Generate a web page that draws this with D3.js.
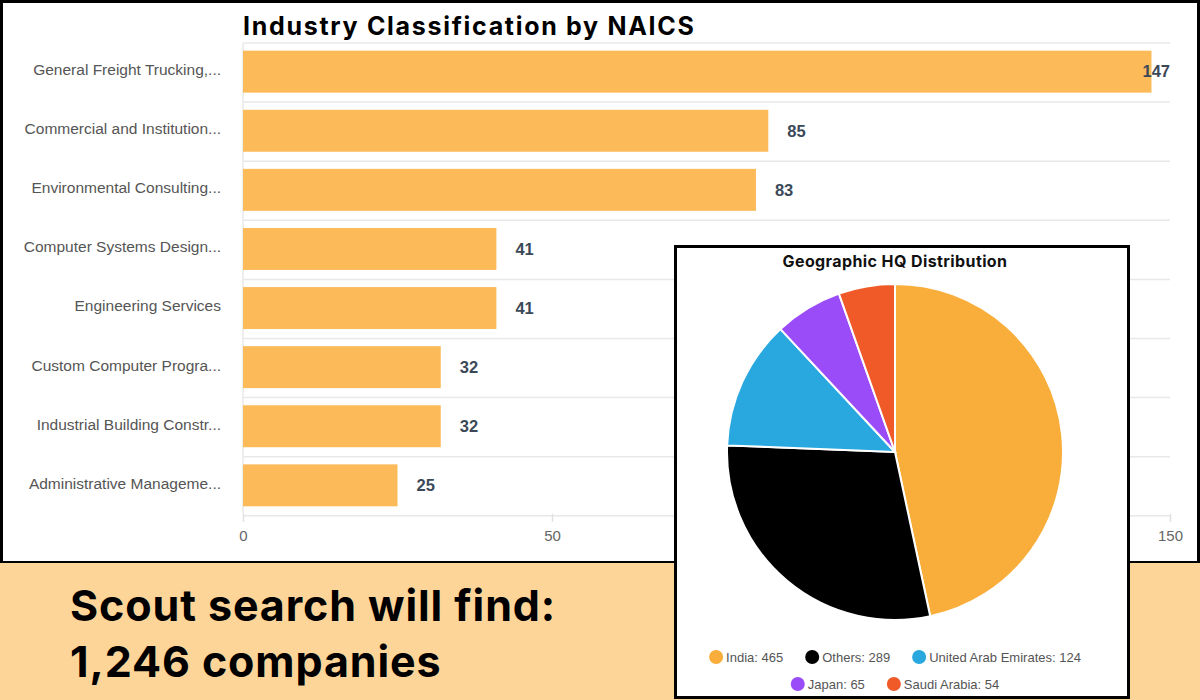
<!DOCTYPE html>
<html>
<head>
<meta charset="utf-8">
<script src="https://cdn.jsdelivr.net/npm/d3@7"></script>
<style>
  body { margin: 0; background: #fff; }
  svg { display: block; }
</style>
</head>
<body>
<div id="chart"></div>
<script>
const industries = [
  'General Freight Trucking,...',
  'Commercial and Institution...',
  'Environmental Consulting...',
  'Computer Systems Design...',
  'Engineering Services',
  'Custom Computer Progra...',
  'Industrial Building Constr...',
  'Administrative Manageme...'
];
const industryCounts = [147, 85, 83, 41, 41, 32, 32, 25];
const xTicks = [0, 50, 100, 150];

const regions = ['India', 'Others', 'United Arab Emirates', 'Japan', 'Saudi Arabia'];
const regionCounts = [465, 289, 124, 65, 54];
const regionColors = ['#f9ae3b', '#000000', '#29a8e0', '#9b4cf9', '#f05a28'];

const headline = ['Scout search will find:', '1,246 companies'];

const W = 1200, H = 700;
const bandTop = 563;

const svg = d3.select('#chart').append('svg')
  .attr('width', W)
  .attr('height', H);

// white panel with black frame
svg.append('rect')
  .attr('x', 1.5).attr('y', 1.5)
  .attr('width', W - 3).attr('height', bandTop - 2)
  .attr('fill', '#fff')
  .attr('stroke', '#000')
  .attr('stroke-width', 3);

// ---- bar chart ----
const margin = {top: 43, left: 243};
const plotW = 927, plotH = 471;

const g = svg.append('g')
  .attr('transform', 'translate(' + margin.left + ',' + margin.top + ')');

const x = d3.scaleLinear().domain([0, 150]).range([0, plotW]);
const y = d3.scaleBand().domain(industries).range([0, plotH]).paddingInner(0.29).paddingOuter(0.13);

// horizontal grid lines between bands
const step = y.step();
g.selectAll('.hgrid')
  .data(d3.range(industries.length + 1))
  .enter().append('line')
  .attr('class', 'hgrid')
  .attr('x1', 0).attr('x2', plotW)
  .attr('y1', d => d * step).attr('y2', d => d * step)
  .attr('stroke', '#e8e8e8')
  .attr('stroke-width', 1.5);

g.append('line')
  .attr('x1', 0).attr('x2', 0)
  .attr('y1', 0).attr('y2', plotH)
  .attr('stroke', '#e8e8e8')
  .attr('stroke-width', 1.5);

const xAxis = g.append('g')
  .attr('transform', 'translate(0,' + plotH + ')')
  .call(d3.axisBottom(x).tickValues(xTicks).tickSize(8).tickPadding(8));
xAxis.select('.domain').remove();
xAxis.selectAll('line').attr('stroke', '#e0e0e0').attr('stroke-width', 1.5);
xAxis.selectAll('text')
  .attr('fill', '#666')
  .style('font-family', 'Liberation Sans, Arial, sans-serif')
  .style('font-size', '15px');

g.selectAll('.bar')
  .data(industries)
  .enter().append('rect')
  .attr('class', 'bar')
  .attr('x', 0)
  .attr('y', d => y(d))
  .attr('width', (d, i) => x(industryCounts[i]))
  .attr('height', y.bandwidth())
  .attr('fill', '#fcba59');

g.selectAll('.cat')
  .data(industries)
  .enter().append('text')
  .attr('class', 'cat')
  .attr('x', -22)
  .attr('y', d => y(d) + y.bandwidth() / 2 - 2)
  .attr('dy', '0.35em')
  .attr('text-anchor', 'end')
  .attr('fill', '#555')
  .style('font-family', 'Liberation Sans, Arial, sans-serif')
  .style('font-size', '15.5px')
  .text(d => d);

g.selectAll('.val')
  .data(industries)
  .enter().append('text')
  .attr('class', 'val')
  .attr('y', d => y(d) + y.bandwidth() / 2)
  .attr('dy', '0.35em')
  .attr('fill', '#3b4858')
  .style('font-family', 'Liberation Sans, Arial, sans-serif')
  .style('font-size', '16.5px')
  .style('font-weight', 'bold')
  .text((d, i) => industryCounts[i])
  .attr('x', function(d, i) {
    const tw = this.getComputedTextLength();
    return Math.min(x(industryCounts[i]) + 19, plotW - tw);
  });

svg.append('text')
  .attr('x', margin.left)
  .attr('y', 35)
  .attr('fill', '#000')
  .style('font-family', 'Inter, sans-serif')
  .style('font-size', '25px')
  .style('font-weight', 'bold')
  .style('letter-spacing', '1.7px')
  .text('Industry Classification by NAICS');

// ---- bottom band ----
svg.append('rect')
  .attr('x', 0).attr('y', bandTop)
  .attr('width', W).attr('height', H - bandTop)
  .attr('fill', '#fed598');

svg.selectAll('.headline')
  .data(headline)
  .enter().append('text')
  .attr('class', 'headline')
  .attr('x', 70)
  .attr('y', (d, i) => 621 + i * 56)
  .attr('fill', '#000')
  .style('font-family', 'Inter, sans-serif')
  .style('font-size', '43px')
  .style('font-weight', 'bold')
  .style('letter-spacing', '0.9px')
  .text(d => d);

// ---- pie box ----
const box = {x: 675.5, y: 246.5, w: 453, h: 451};
svg.append('rect')
  .attr('x', box.x).attr('y', box.y)
  .attr('width', box.w).attr('height', box.h)
  .attr('fill', '#fff')
  .attr('stroke', '#000')
  .attr('stroke-width', 3);

const cx = 895, cy = 452, r = 168;

svg.append('text')
  .attr('x', cx)
  .attr('y', 267)
  .attr('text-anchor', 'middle')
  .attr('fill', '#111')
  .style('font-family', 'Inter, sans-serif')
  .style('font-size', '16px')
  .style('font-weight', 'bold')
  .style('letter-spacing', '0.4px')
  .text('Geographic HQ Distribution');

const pie = d3.pie().sort(null).value(d => d)(regionCounts);
const arc = d3.arc().innerRadius(0).outerRadius(r);

svg.append('g')
  .attr('transform', 'translate(' + cx + ',' + cy + ')')
  .selectAll('path')
  .data(pie)
  .enter().append('path')
  .attr('d', arc)
  .attr('fill', (d, i) => regionColors[i])
  .attr('stroke', '#fff')
  .attr('stroke-width', 2);

// legend, two centred rows
const rows = [[0, 1, 2], [3, 4]];
const rowY = [657, 684];
rows.forEach((row, ri) => {
  const lg = svg.append('g');
  let cursor = 0;
  row.forEach(i => {
    const item = lg.append('g').attr('transform', 'translate(' + cursor + ',0)');
    item.append('circle')
      .attr('cx', 7).attr('cy', rowY[ri])
      .attr('r', 7)
      .attr('fill', regionColors[i]);
    const t = item.append('text')
      .attr('x', 17)
      .attr('y', rowY[ri])
      .attr('dy', '0.35em')
      .attr('fill', '#555')
      .style('font-family', 'Liberation Sans, Arial, sans-serif')
      .style('font-size', '13px')
      .text(regions[i] + ': ' + regionCounts[i]);
    cursor += 17 + t.node().getComputedTextLength() + 22;
  });
  const total = cursor - 22;
  lg.attr('transform', 'translate(' + (cx - total / 2) + ',0)');
});
</script>
</body>
</html>
